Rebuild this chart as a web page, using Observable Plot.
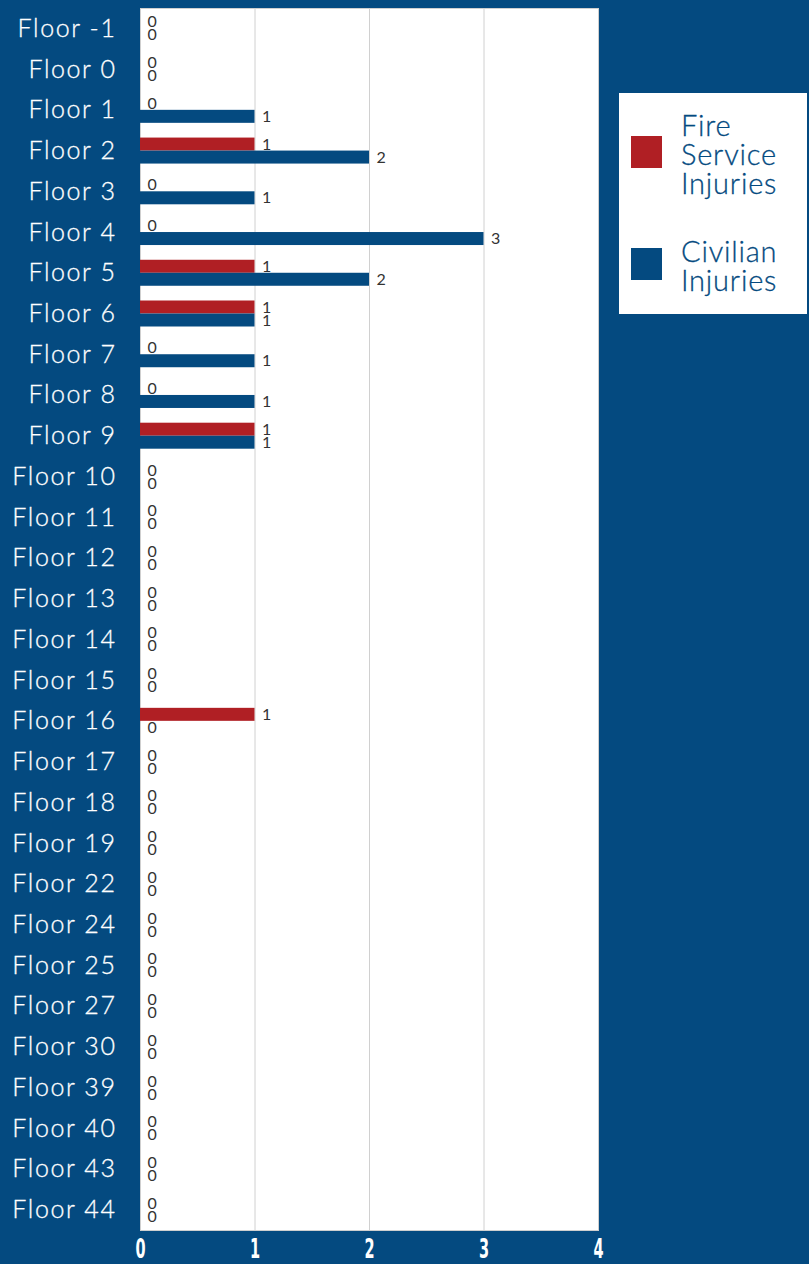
<!DOCTYPE html>
<html>
<head>
<meta charset="utf-8">
<script src="https://cdn.jsdelivr.net/npm/d3@7"></script>
<script src="https://cdn.jsdelivr.net/npm/@observablehq/plot@0.6"></script>
<style>
  html, body { margin: 0; padding: 0; background: #044a80; }
  #wrap { position: relative; width: 809px; height: 1264px; overflow: hidden; }
  #legend {
    position: absolute; left: 619px; top: 93px; width: 188px; height: 221px;
    background: #fff; font-family: Lato, "Noto Sans", sans-serif; font-weight: 300; color: #044a80;
  }
  .sw { position: absolute; left: 12px; width: 31px; height: 32px; }
  .line { position: absolute; left: 62px; font-size: 29px; line-height: 29px; height: 29px; letter-spacing: 0.8px; white-space: nowrap; -webkit-text-stroke: 0.3px #044a80; }
</style>
</head>
<body>
<div id="wrap">
  <div id="chart"></div>
  <div id="legend"></div>
</div>
<script>
const floors = ["Floor -1","Floor 0","Floor 1","Floor 2","Floor 3","Floor 4","Floor 5","Floor 6","Floor 7","Floor 8","Floor 9","Floor 10","Floor 11","Floor 12","Floor 13","Floor 14","Floor 15","Floor 16","Floor 17","Floor 18","Floor 19","Floor 22","Floor 24","Floor 25","Floor 27","Floor 30","Floor 39","Floor 40","Floor 43","Floor 44"];
const fireInjuries =     [0,0,0,1,0,0,1,1,0,0,1,0,0,0,0,0,0,1,0,0,0,0,0,0,0,0,0,0,0,0];
const civilianInjuries = [0,0,1,2,1,3,2,1,1,1,1,0,0,0,0,0,0,0,0,0,0,0,0,0,0,0,0,0,0,0];
const seriesNames = [["Fire", "Service", "Injuries"], ["Civilian", "Injuries"]];
const seriesColors = ["#b01f24", "#044a80"];
const xTicks = [0, 1, 2, 3, 4];

const fireData = floors.map((f, i) => ({floor: f, value: fireInjuries[i]}));
const civData = floors.map((f, i) => ({floor: f, value: civilianInjuries[i]}));

const band = (1230 - 8) / floors.length;
const half = band / 2;
const barH = 13;
const labelFont = "Lato, 'Noto Sans', sans-serif";

const chart = Plot.plot({
  width: 809,
  height: 1264,
  marginLeft: 140,
  marginRight: 211,
  marginTop: 8,
  marginBottom: 34,
  style: {background: "transparent", overflow: "visible"},
  x: {domain: [0, 4], ticks: xTicks},
  y: {domain: floors, padding: 0, round: false},
  marks: [
    Plot.frame({fill: "white", stroke: "#cfcfcf"}),
    Plot.gridX(xTicks.slice(1, 4), {stroke: "#d0d0d0", strokeOpacity: 1}),
    Plot.barX(fireData, {x: "value", y: "floor", fill: seriesColors[0], insetTop: half - barH, insetBottom: half}),
    Plot.barX(civData, {x: "value", y: "floor", fill: seriesColors[1], insetTop: half, insetBottom: half - barH}),
    Plot.text(fireData, {x: "value", y: "floor", text: d => String(d.value), dy: -barH / 2, dx: 7, textAnchor: "start", fill: "#333", fontSize: 16, fontFamily: labelFont}),
    Plot.text(civData, {x: "value", y: "floor", text: d => String(d.value), dy: barH / 2, dx: 7, textAnchor: "start", fill: "#333", fontSize: 16, fontFamily: labelFont}),
    Plot.axisY({tickSize: 0, tickPadding: 24, fill: "white", fontSize: 25, fontWeight: 300, fontFamily: labelFont, label: null}),
    Plot.axisX(xTicks, {tickSize: 0, tickPadding: 9, fill: "white", fontSize: 26, fontWeight: "bold", fontFamily: "'DejaVu Sans Condensed', 'DejaVu Sans', sans-serif", tickFormat: "d", label: null})
  ]
});
chart.querySelectorAll("[aria-label='y-axis tick label'] text").forEach(t => {
  t.style.letterSpacing = "1.6px";
  t.setAttribute("stroke", "white");
  t.setAttribute("stroke-width", "0.3");
});
chart.querySelectorAll("[aria-label='x-axis tick label'] text").forEach(t => {
  const tr = t.getAttribute("transform") || "";
  t.setAttribute("transform", tr + " scale(0.62,1)");
});
document.getElementById("chart").appendChild(chart);

const legend = document.getElementById("legend");
const items = [
  {name: seriesNames[0], color: seriesColors[0], swTop: 43, textTop: 17},
  {name: seriesNames[1], color: seriesColors[1], swTop: 155, textTop: 143}
];
items.forEach(it => {
  const sw = document.createElement("div");
  sw.className = "sw";
  sw.style.top = it.swTop + "px";
  sw.style.background = it.color;
  legend.appendChild(sw);
  it.name.forEach((ln, j) => {
    const d = document.createElement("div");
    d.className = "line";
    d.style.top = (it.textTop + j * 29) + "px";
    d.textContent = ln;
    legend.appendChild(d);
  });
});
</script>
</body>
</html>
